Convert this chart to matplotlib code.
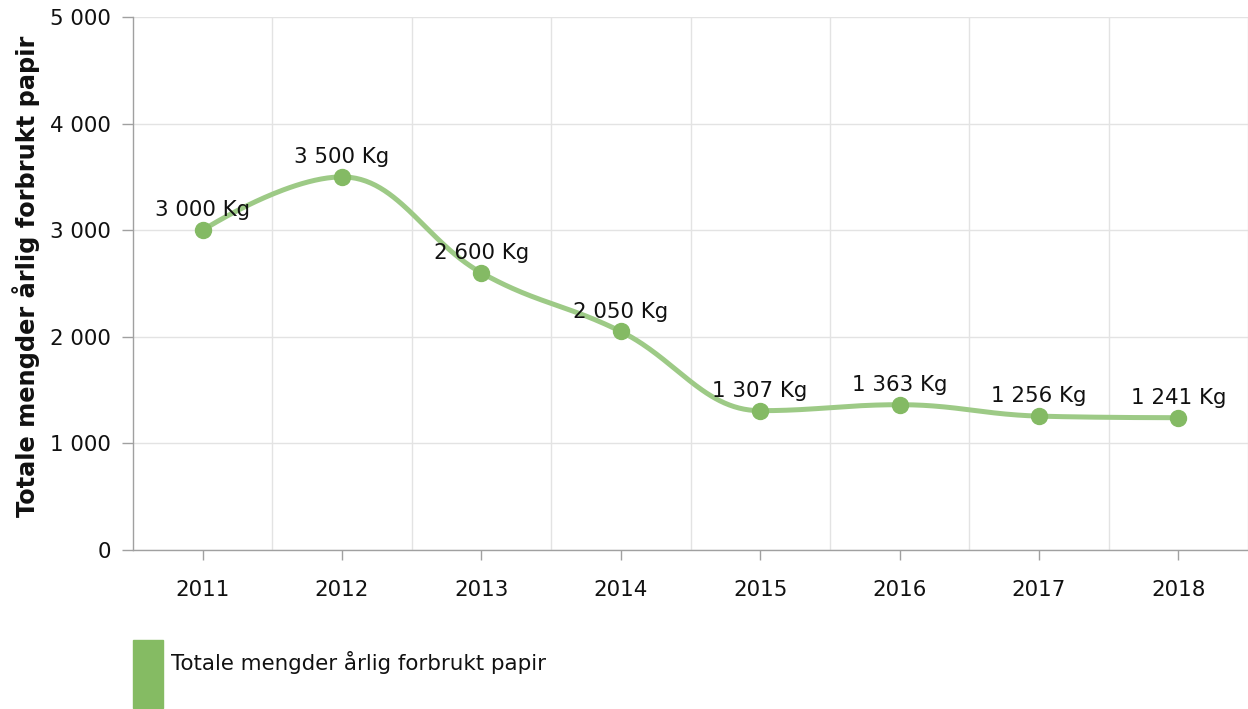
import matplotlib
matplotlib.use("Agg")
import matplotlib.pyplot as plt
import numpy as np
from matplotlib.patches import Rectangle
from matplotlib.ticker import FixedLocator

# Data
years = ["2011", "2012", "2013", "2014", "2015", "2016", "2017", "2018"]
paper_kg = [3000, 3500, 2600, 2050, 1307, 1363, 1256, 1241]
series_name = "Totale mengder årlig forbrukt papir"
y_ticks = [0, 1000, 2000, 3000, 4000, 5000]

LINE_COLOR = "#9dca86"
MARKER_COLOR = "#84ba64"
LEGEND_COLOR = "#85bb63"
TEXT_SIZE = 15.4


def fmt(v):
    return f"{v:,}".replace(",", " ")


def spline_path(xs, ys, smoothing=1.5):
    """Smooth curve through the points, Highcharts 'spline' style."""
    n = len(xs)
    denom = smoothing + 1
    left = [(xs[0], ys[0])] * n
    right = [(xs[-1], ys[-1])] * n
    for i in range(1, n - 1):
        lx = (smoothing * xs[i] + xs[i - 1]) / denom
        ly = (smoothing * ys[i] + ys[i - 1]) / denom
        rx = (smoothing * xs[i] + xs[i + 1]) / denom
        ry = (smoothing * ys[i] + ys[i + 1]) / denom
        if rx != lx:
            corr = (ry - ly) * (rx - xs[i]) / (rx - lx) + ys[i] - ry
            ly += corr
            ry += corr
        if ly > ys[i - 1] and ly > ys[i]:
            ly = max(ys[i - 1], ys[i])
            ry = 2 * ys[i] - ly
        elif ly < ys[i - 1] and ly < ys[i]:
            ly = min(ys[i - 1], ys[i])
            ry = 2 * ys[i] - ly
        if ry > ys[i + 1] and ry > ys[i]:
            ry = max(ys[i + 1], ys[i])
            ly = 2 * ys[i] - ry
        elif ry < ys[i + 1] and ry < ys[i]:
            ry = min(ys[i + 1], ys[i])
            ly = 2 * ys[i] - ry
        left[i] = (lx, ly)
        right[i] = (rx, ry)
    right[0] = (xs[0], ys[0])
    left[-1] = (xs[-1], ys[-1])
    t = np.linspace(0, 1, 60)
    px, py = [], []
    for i in range(n - 1):
        p0 = np.array([xs[i], ys[i]])
        p1 = np.array(right[i])
        p2 = np.array(left[i + 1])
        p3 = np.array([xs[i + 1], ys[i + 1]])
        pts = ((1 - t) ** 3)[:, None] * p0 + (3 * (1 - t) ** 2 * t)[:, None] * p1 \
            + (3 * (1 - t) * t ** 2)[:, None] * p2 + (t ** 3)[:, None] * p3
        px.extend(pts[:, 0])
        py.extend(pts[:, 1])
    return px, py


plt.rcParams["font.family"] = ["DejaVu Sans"]

fig = plt.figure(figsize=(12.48, 7.09), dpi=100)
ax = fig.add_axes([133 / 1248, 1 - 550 / 709, 1 - 133 / 1248, (550 - 17) / 709])

x = list(range(len(years)))
cx, cy = spline_path(x, paper_kg)
ax.plot(cx, cy, color=LINE_COLOR, lw=3.6, solid_capstyle="round", zorder=3)
ax.plot(x, paper_kg, "o", color=MARKER_COLOR, ms=11.5, zorder=4)

for xi, v in zip(x, paper_kg):
    ax.annotate(f"{fmt(v)} Kg", (xi, v), xytext=(0, 10), textcoords="offset points",
                ha="center", va="baseline", fontsize=TEXT_SIZE, color="#111111", zorder=5)

ax.set_xlim(-0.5, len(years) - 0.5)
ax.set_ylim(0, 5000)
ax.set_xticks(x)
ax.set_xticklabels(years)
ax.set_yticks(y_ticks)
ax.set_yticklabels([fmt(v) for v in y_ticks])
ax.xaxis.set_minor_locator(FixedLocator([i + 0.5 for i in range(len(years))]))

ax.grid(True, which="major", axis="y", color="#e3e3e3", lw=1)
ax.grid(True, which="minor", axis="x", color="#e3e3e3", lw=1)
ax.set_axisbelow(True)

for s in ["top", "right"]:
    ax.spines[s].set_visible(False)
for s in ["left", "bottom"]:
    ax.spines[s].set_color("#a0a0a0")
    ax.spines[s].set_linewidth(1)

ax.tick_params(axis="x", which="major", length=7.5, width=1, color="#a0a0a0",
               pad=14, labelsize=TEXT_SIZE, labelcolor="#111111")
ax.tick_params(axis="x", which="minor", length=0)
ax.tick_params(axis="y", length=8, width=1, color="#a0a0a0", pad=8,
               labelsize=TEXT_SIZE, labelcolor="#111111")

ax.set_ylabel(series_name, fontsize=17.3, fontweight="bold", color="#111111",
              va="center")
ax.yaxis.set_label_coords(-(133 - 26) / 1115, (550 - 276.5) / 533)

# Legend
fig.patches.append(Rectangle((133 / 1248, 1 - 708 / 709), 30 / 1248, 68 / 709,
                             transform=fig.transFigure, color=LEGEND_COLOR))
fig.text(171 / 1248, 1 - 663 / 709, series_name, fontsize=TEXT_SIZE,
         va="center", ha="left", color="#111111")

fig.savefig("out.png", dpi=100)
